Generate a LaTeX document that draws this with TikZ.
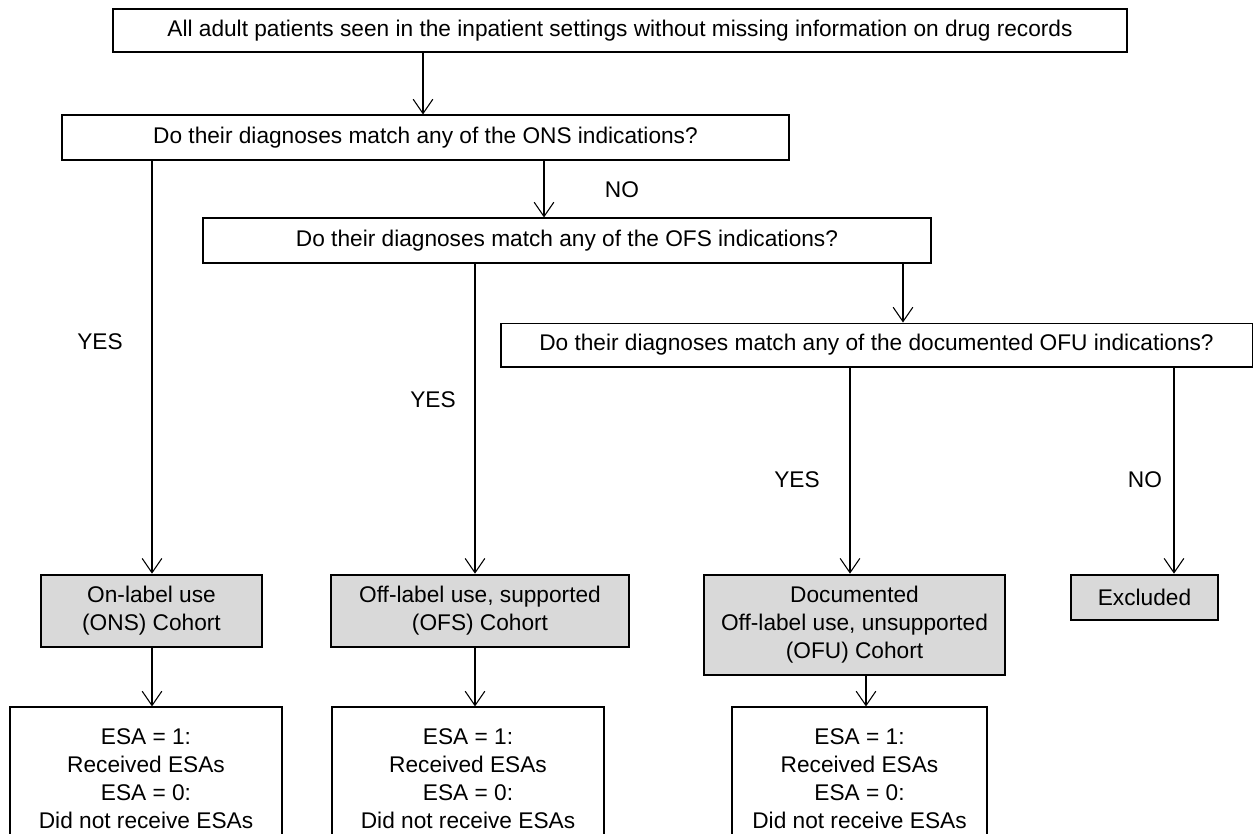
\documentclass[tikz,border=0pt]{standalone}
\usepackage{fontspec}
\setmainfont{Liberation Sans}
\usetikzlibrary{arrows.meta}
\definecolor{cohortgray}{RGB}{217,217,217}

\begin{document}
\begin{tikzpicture}[x=0.56pt,y=-0.56pt,
  font=\fontsize{12.7}{15.7}\selectfont,
  box/.style={draw=black,line width=0.6pt,align=center,inner sep=0pt},
  cohort/.style={box,fill=cohortgray,line width=1.5pt},
  arr/.style={-{Straight Barb[length=8pt,width=11pt]},line width=0.6pt}]

\useasboundingbox (0,0) rectangle (1253,833);

% Draw the question boxes
\node[box,minimum width=567.8pt,minimum height=24.1pt] (top) at (620,30.5)
  {All adult patients seen in the inpatient settings without missing information on drug records};
\node[box,minimum width=407.1pt,minimum height=25.2pt] (onsq) at (425.5,137.5)
  {Do their diagnoses match any of the ONS indications?};
\node[box,minimum width=407.7pt,minimum height=25.2pt] (ofsq) at (567,240.5)
  {Do their diagnoses match any of the OFS indications?};
\node[box,minimum width=420.6pt,minimum height=24.6pt] (ofuq) at (876.5,345)
  {Do their diagnoses match any of the documented OFU indications?};

% Draw the cohort boxes
\node[cohort,minimum width=123.8pt,minimum height=40.3pt] (onsc) at (151.5,611)
  {On-label use\\(ONS) Cohort};
\node[cohort,minimum width=166.9pt,minimum height=40.3pt] (ofsc) at (480,611)
  {Off-label use, supported\\(OFS) Cohort};
\node[cohort,minimum width=168.6pt,minimum height=56pt] (ofuc) at (854.5,625)
  {Documented\\Off-label use, unsupported\\(OFU) Cohort};
\node[cohort,minimum width=82.3pt,minimum height=25.2pt] (excl) at (1144.5,597.5)
  {Excluded};

% Draw the outcome boxes
\node[box,minimum width=152.3pt,minimum height=80.1pt] (onsr) at (146,778.5)
  {ESA = 1:\\Received ESAs\\ESA = 0:\\Did not receive ESAs};
\node[box,minimum width=152.3pt,minimum height=80.1pt] (ofsr) at (468,778.5)
  {ESA = 1:\\Received ESAs\\ESA = 0:\\Did not receive ESAs};
\node[box,minimum width=142.8pt,minimum height=80.1pt] (ofur) at (859.5,778.5)
  {ESA = 1:\\Received ESAs\\ESA = 0:\\Did not receive ESAs};

% Draw the arrows
\draw[arr] (top.south -| 423,0) -- (onsq.north -| 423,0);
\draw[arr] (onsq.south -| 152,0) -- (onsc.north -| 152,0);
\draw[arr] (onsq.south -| 544,0) -- (ofsq.north -| 544,0);
\draw[arr] (ofsq.south -| 475,0) -- (ofsc.north -| 475,0);
\draw[arr] (ofsq.south -| 903,0) -- (ofuq.north -| 903,0);
\draw[arr] (ofuq.south -| 850,0) -- (ofuc.north -| 850,0);
\draw[arr] (ofuq.south -| 1174,0) -- (excl.north -| 1174,0);
\draw[arr] (onsc.south -| 152,0) -- (onsr.north -| 152,0);
\draw[arr] (ofsc.south -| 475,0) -- (ofsr.north -| 475,0);
\draw[arr] (ofuc.south -| 866,0) -- (ofur.north -| 866,0);

% Label the branches
\node (yes1) at (100,342) {YES};
\node (yes2) at (433,400) {YES};
\node (yes3) at (797,480) {YES};
\node (no1) at (622,190) {NO};
\node (no2) at (1145,480) {NO};

\end{tikzpicture}
\end{document}
